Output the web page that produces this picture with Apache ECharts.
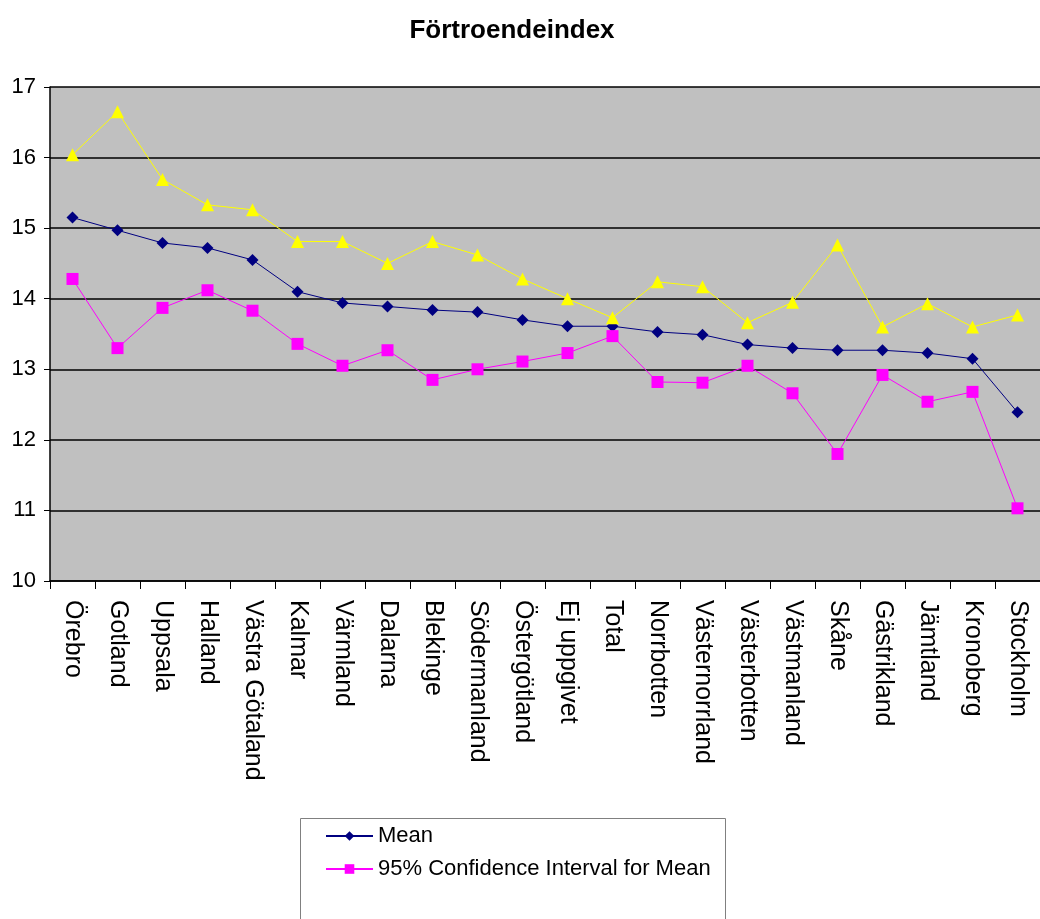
<!DOCTYPE html>
<html>
<head>
<meta charset="utf-8">
<script src="https://cdn.jsdelivr.net/npm/echarts@6/dist/echarts.min.js"></script>
<style>
  html, body { margin: 0; padding: 0; background: #fff; }
  #chart { width: 1040px; height: 919px; }
</style>
</head>
<body>
<div id="chart"></div>
<script>
// regions, sorted by mean
const regions = ['Örebro', 'Gotland', 'Uppsala', 'Halland', 'Västra Götaland', 'Kalmar', 'Värmland',
  'Dalarna', 'Blekinge', 'Södermanland', 'Östergötland', 'Ej uppgivet', 'Total', 'Norrbotten',
  'Västernorrland', 'Västerbotten', 'Västmanland', 'Skåne', 'Gästrikland', 'Jämtland', 'Kronoberg', 'Stockholm']

const meanValues = [15.15, 14.97, 14.79, 14.72, 14.55, 14.10, 13.94, 13.89, 13.84, 13.81, 13.70,
  13.61, 13.61, 13.53, 13.49, 13.35, 13.30, 13.27, 13.27, 13.23, 13.15, 12.39]

// 95% konfidensintervall, nedre och övre gräns
const lowerCI = [14.28, 13.30, 13.87, 14.12, 13.83, 13.36, 13.05, 13.27, 12.85, 13.00, 13.11,
  13.23, 13.47, 12.82, 12.81, 13.05, 12.66, 11.80, 12.92, 12.54, 12.68, 11.03]
const upperCI = [16.04, 16.65, 15.69, 15.33, 15.26, 14.81, 14.81, 14.50, 14.81, 14.62, 14.28,
  14.00, 13.73, 14.24, 14.17, 13.66, 13.95, 14.76, 13.60, 13.93, 13.60, 13.77]

const yTicks = { min: 10, max: 17, step: 1 }

const font = 'Liberation Sans, Arial, sans-serif'
const chart = echarts.init(document.getElementById('chart'))

chart.setOption({
  animation: false,
  title: {
    text: 'Förtroendeindex',
    left: 507,
    textAlign: 'center',
    top: 13,
    textStyle: { fontFamily: font, fontSize: 26, fontWeight: 'bold', color: '#000' }
  },
  grid: { left: 50, right: -7, top: 87, bottom: 338, backgroundColor: '#c0c0c0', show: true, borderWidth: 0 },
  legend: {
    orient: 'vertical',
    left: 325,
    top: 825,
    padding: 0,
    itemWidth: 47,
    itemHeight: 12,
    itemGap: 11,
    textStyle: { fontFamily: font, fontSize: 22, color: '#000', padding: [0, 0, 0, 0] },
    // övre gränsen saknar namn i förlagan, visas inte i legenden
    data: ['Mean', '95% Confidence Interval for Mean']
  },
  graphic: [{
    type: 'rect',
    shape: { x: 300.5, y: 818.5, width: 425, height: 110 },
    style: { fill: 'none', stroke: '#808080', lineWidth: 1 }
  }],
  xAxis: {
    type: 'category',
    data: regions,
    boundaryGap: true,
    axisLine: { lineStyle: { color: '#000', width: 1.5 } },
    axisTick: { show: true, length: 8, alignWithLabel: false, lineStyle: { color: '#000' } },
    axisLabel: {
      interval: 0,
      rotate: -90,
      margin: 19,
      fontFamily: font,
      fontSize: 25,
      color: '#000'
    }
  },
  yAxis: {
    type: 'value',
    min: yTicks.min,
    max: yTicks.max,
    interval: yTicks.step,
    axisLine: { show: true, lineStyle: { color: '#000', width: 1.5 } },
    axisTick: { show: true, length: 6, lineStyle: { color: '#000' } },
    axisLabel: { fontFamily: font, fontSize: 22, color: '#000', margin: 14 },
    splitLine: { show: true, lineStyle: { color: '#000', width: 1.5 } }
  },
  series: [
    {
      name: 'Mean',
      type: 'line',
      data: meanValues,
      symbol: 'diamond',
      symbolSize: 12,
      itemStyle: { color: '#000080' },
      lineStyle: { color: '#000080', width: 1 }
    },
    {
      name: '95% Confidence Interval for Mean',
      type: 'line',
      data: lowerCI,
      symbol: 'rect',
      symbolSize: 12,
      itemStyle: { color: '#ff00ff' },
      lineStyle: { color: '#ff00ff', width: 1 }
    },
    {
      name: ' ',
      type: 'line',
      data: upperCI,
      symbol: 'triangle',
      symbolSize: 13,
      itemStyle: { color: '#ffff00' },
      lineStyle: { color: '#ffff00', width: 1 }
    }
  ]
})
</script>
</body>
</html>
